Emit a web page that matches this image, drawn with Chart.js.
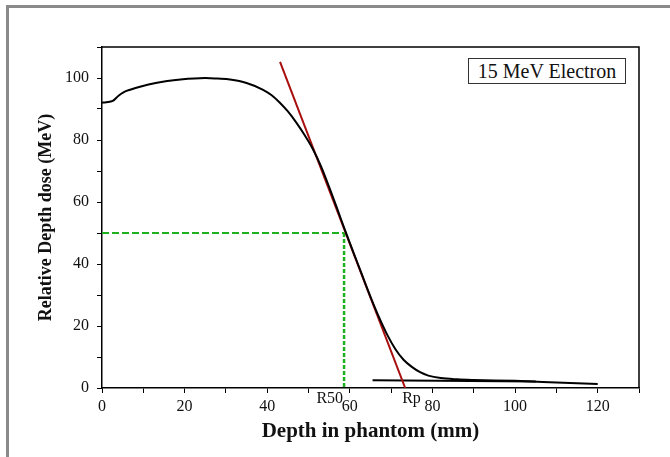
<!DOCTYPE html>
<html lang="en">
<head>
  <meta charset="UTF-8">
  <title>15 MeV Electron depth dose</title>
  <script src="https://cdn.jsdelivr.net/npm/chart.js@4.4.1/dist/chart.umd.min.js"></script>
  <style>
    html, body { margin: 0; padding: 0; background: #fff; }
    .frame { position: absolute; left: 6px; top: 5px; width: 700px; height: 500px; border-left: 3px solid #8a8a8a; border-top: 3px solid #8a8a8a; }
    .wrap { position: absolute; left: 0; top: 0; width: 670px; height: 457px; }
    .badge { position: absolute; left: 468px; top: 58px; width: 156px; height: 24px; border: 1px solid #333; font: 20px "Liberation Serif", serif; text-align: center; line-height: 24px; color: #111; background: #fff; white-space: nowrap; }
  </style>
</head>
<body>
  <div class="frame"></div>
  <div class="wrap"><canvas id="pdd" width="670" height="457"></canvas></div>
  <div class="badge">15 MeV Electron</div>

  <script>
    // depth (mm) and relative dose
    const depth = [0, 1, 2.6, 4, 5.2, 7, 9.2, 13, 19, 25, 28, 31, 35, 39, 41, 43, 45, 47, 49, 51, 53, 55, 57, 58.8, 61, 63, 65, 67, 69, 71, 73, 75, 77, 79, 82, 86, 90, 100, 110, 120];
    const dose = [92, 92.2, 92.6, 94.3, 95.4, 96.3, 97.2, 98.4, 99.5, 100, 99.8, 99.5, 98.4, 96.2, 94.5, 92.1, 89.2, 85.7, 81.7, 77.2, 71.6, 64.8, 57.6, 51, 43.3, 36.3, 29.4, 23, 17.3, 12.6, 9.1, 6.8, 5.1, 4, 3.2, 2.8, 2.6, 2.3, 1.8, 1.3];

    // tangent through R50 and the bremsstrahlung tail line
    const tangentX = [43.1, 73.4];
    const tangentY = [105.2, 0];
    const tailX = [65.5, 105];
    const tailY = [2.5, 2.1];

    const r50 = 58.6;
    const rp = 73.4;
    const halfDose = 50;

    const xTicks = [0, 20, 40, 60, 80, 100, 120];
    const yTicks = [0, 20, 40, 60, 80, 100];

    const toPts = (xs, ys) => xs.map((x, i) => ({ x: x, y: ys[i] }));

    const serif = '"Liberation Serif", "Times New Roman", serif';

    const boxPlugin = {
      id: 'box',
      afterDraw(chart) {
        const { ctx, chartArea: a, scales } = chart;
        ctx.save();
        ctx.strokeStyle = '#000';
        ctx.lineWidth = 1.5;
        ctx.beginPath();
        ctx.moveTo(a.left, a.top);
        ctx.lineTo(a.right, a.top);
        ctx.lineTo(a.right, a.bottom);
        ctx.stroke();
        ctx.fillStyle = '#111';
        ctx.font = '16px ' + serif;
        ctx.textBaseline = 'top';
        ctx.textAlign = 'right';
        ctx.fillText('R50', scales.x.getPixelForValue(r50) - 1, a.bottom + 3);
        ctx.textAlign = 'left';
        ctx.fillText('Rp', scales.x.getPixelForValue(rp) - 3, a.bottom + 3);
        ctx.restore();
      }
    };

    new Chart(document.getElementById('pdd'), {
      type: 'scatter',
      data: {
        datasets: [
          { data: toPts(depth, dose), showLine: true, borderColor: '#000', borderWidth: 2, pointRadius: 0, cubicInterpolationMode: 'monotone' },
          { data: toPts(tangentX, tangentY), showLine: true, borderColor: '#a80e0e', borderWidth: 2, pointRadius: 0 },
          { data: toPts(tailX, tailY), showLine: true, borderColor: '#000', borderWidth: 2, pointRadius: 0 },
          { data: [{ x: 0, y: halfDose }, { x: r50, y: halfDose }], showLine: true, borderColor: '#1fb01f', borderWidth: 2, borderDash: [7, 3], pointRadius: 0 },
          { data: [{ x: r50, y: halfDose }, { x: r50, y: 0 }], showLine: true, borderColor: '#1fb01f', borderWidth: 2.5, borderDash: [4, 2], pointRadius: 0 }
        ]
      },
      options: {
        responsive: false,
        animation: false,
        layout: { padding: { top: 47, right: 31, left: 0, bottom: 0 } },
        plugins: { legend: { display: false }, tooltip: { enabled: false } },
        scales: {
          x: {
            type: 'linear', min: 0, max: 130,
            afterFit: s => { s.height = 69; },
            border: { display: true, color: '#000', width: 1.5 },
            grid: { drawOnChartArea: false, drawTicks: true, tickLength: 5, color: '#000' },
            ticks: {
              stepSize: 10, autoSkip: false, maxRotation: 0, padding: 4, color: '#111',
              font: { family: serif, size: 16 },
              callback: v => xTicks.includes(v) ? String(v) : ''
            },
            title: { display: true, text: 'Depth in phantom (mm)', color: '#111', padding: { bottom: 13 }, font: { family: serif, size: 21, weight: 'bold' } }
          },
          y: {
            type: 'linear', min: 0, max: 110,
            afterFit: s => { s.width = 102; },
            border: { display: true, color: '#000', width: 1.5 },
            grid: { drawOnChartArea: false, drawTicks: true, tickLength: 5, color: '#000' },
            ticks: {
              stepSize: 10, autoSkip: false, padding: 8, color: '#111',
              font: { family: serif, size: 16 },
              callback: v => yTicks.includes(v) ? String(v) : ''
            },
            title: { display: true, text: 'Relative Depth dose (MeV)', color: '#111', padding: { top: 36 }, font: { family: serif, size: 18, weight: 'bold' } }
          }
        }
      },
      plugins: [boxPlugin]
    });
  </script>
</body>
</html>
